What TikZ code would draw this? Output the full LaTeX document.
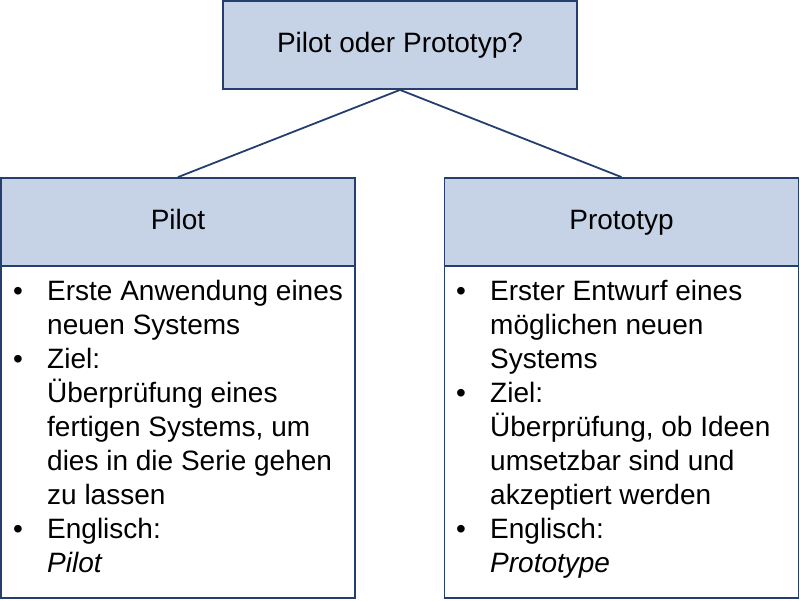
\documentclass[tikz,border=0pt]{standalone}
\usepackage{fontspec}
\setmainfont{Liberation Sans}
\definecolor{boxfill}{HTML}{C6D3E6}
\definecolor{boxline}{HTML}{243F6E}
\begin{document}
\begin{tikzpicture}[x=1pt,y=-1pt,
  hdrbox/.style={draw=boxline,fill=boxfill,line width=1.8pt,minimum width=354pt,minimum height=88pt,inner sep=0pt,text height=20pt,text depth=6pt,font=\fontsize{28}{34}\selectfont},
  bodybox/.style={draw=boxline,fill=white,line width=1.8pt,minimum width=354pt,minimum height=332pt,inner sep=0pt},
  txt/.style={anchor=base west,inner sep=0pt,font=\fontsize{28}{34}\selectfont},
  bul/.style={anchor=base,inner sep=0pt,font=\fontsize{28}{34}\selectfont},
  conn/.style={draw=boxline,line width=1.8pt}]
\useasboundingbox (0,0) rectangle (800,600);
\node[hdrbox] (top) at (400,45) {Pilot oder Prototyp?};
\node[bodybox] (bl) at (178,432) {};
\node[hdrbox] (hl) at (178,222) {Pilot};
\node[bodybox] (br) at (621.5,432) {};
\node[hdrbox] (hr) at (621.5,222) {Prototyp};
\draw[conn] (top.south) -- (hl.north);
\draw[conn] (top.south) -- (hr.north);
% left list
\node[bul] (lb1) at (18,300) {•};
\node[txt] (l1) at (47,300) {Erste Anwendung eines};
\node[txt] (l2) at (47,334) {neuen Systems};
\node[bul] (lb2) at (18,368) {•};
\node[txt] (l3) at (47,368) {Ziel:};
\node[txt] (l4) at (47,402) {Überprüfung eines};
\node[txt] (l5) at (47,436) {fertigen Systems, um};
\node[txt] (l6) at (47,470) {dies in die Serie gehen};
\node[txt] (l7) at (47,504) {zu lassen};
\node[bul] (lb3) at (18,538) {•};
\node[txt] (l8) at (47,538) {Englisch:};
\node[txt] (l9) at (47,572) {\itshape Pilot};
% right list
\node[bul] (rb1) at (461,300) {•};
\node[txt] (r1) at (490,300) {Erster Entwurf eines};
\node[txt] (r2) at (490,334) {möglichen neuen};
\node[txt] (r3) at (490,368) {Systems};
\node[bul] (rb2) at (461,402) {•};
\node[txt] (r4) at (490,402) {Ziel:};
\node[txt] (r5) at (490,436) {Überprüfung, ob Ideen};
\node[txt] (r6) at (490,470) {umsetzbar sind und};
\node[txt] (r7) at (490,504) {akzeptiert werden};
\node[bul] (rb3) at (461,538) {•};
\node[txt] (r8) at (490,538) {Englisch:};
\node[txt] (r9) at (490,572) {\itshape Prototype};
\end{tikzpicture}
\end{document}
